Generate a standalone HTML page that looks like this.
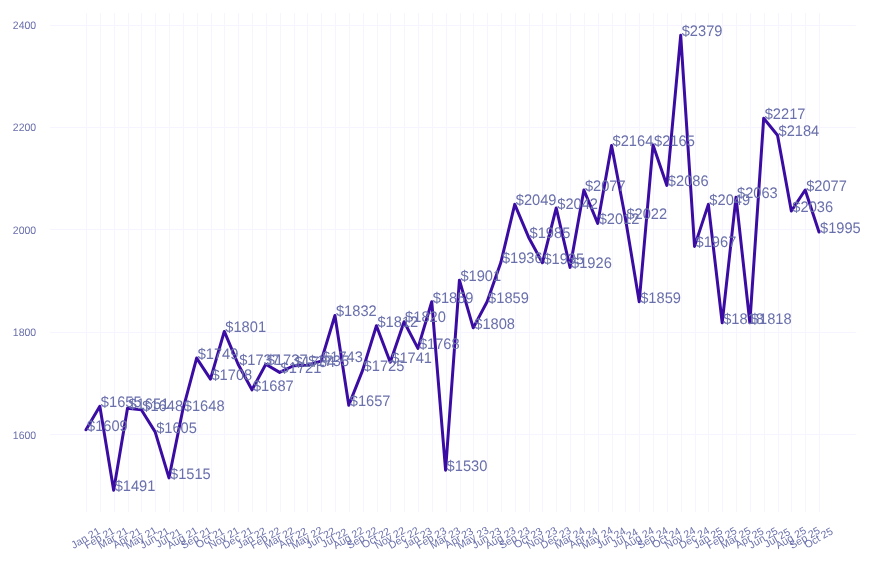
<!DOCTYPE html>
<html lang="en"><head><meta charset="utf-8"><title>Chart</title>
<style>
html,body{margin:0;padding:0;background:#fff;}
body{width:873px;height:565px;overflow:hidden;font-family:"Liberation Sans",sans-serif;}
svg{display:block;text-rendering:geometricPrecision;font-family:"Liberation Sans",sans-serif;}
.grid line{stroke:#f6f4ff;stroke-width:1;shape-rendering:crispEdges;}
.yt text{font-size:10.5px;fill:#6a70ab;text-anchor:end;}
.xt text{font-size:10.5px;fill:#6a70ab;text-anchor:middle;}
.lbl text{font-size:14.67px;fill:#6a70ab;text-anchor:start;}
.ln{fill:none;stroke:#3a0ca3;stroke-width:3;stroke-linejoin:round;stroke-linecap:round;}
</style></head><body>
<svg width="873" height="565" viewBox="0 0 873 565">
<rect width="873" height="565" fill="#ffffff"/>

<g class="grid">
<line x1="86.5" x2="86.5" y1="13" y2="512"/>
<line x1="100.5" x2="100.5" y1="13" y2="512"/>
<line x1="114.5" x2="114.5" y1="13" y2="512"/>
<line x1="128.5" x2="128.5" y1="13" y2="512"/>
<line x1="141.5" x2="141.5" y1="13" y2="512"/>
<line x1="155.5" x2="155.5" y1="13" y2="512"/>
<line x1="169.5" x2="169.5" y1="13" y2="512"/>
<line x1="183.5" x2="183.5" y1="13" y2="512"/>
<line x1="197.5" x2="197.5" y1="13" y2="512"/>
<line x1="211.5" x2="211.5" y1="13" y2="512"/>
<line x1="224.5" x2="224.5" y1="13" y2="512"/>
<line x1="238.5" x2="238.5" y1="13" y2="512"/>
<line x1="252.5" x2="252.5" y1="13" y2="512"/>
<line x1="266.5" x2="266.5" y1="13" y2="512"/>
<line x1="280.5" x2="280.5" y1="13" y2="512"/>
<line x1="294.5" x2="294.5" y1="13" y2="512"/>
<line x1="307.5" x2="307.5" y1="13" y2="512"/>
<line x1="321.5" x2="321.5" y1="13" y2="512"/>
<line x1="335.5" x2="335.5" y1="13" y2="512"/>
<line x1="349.5" x2="349.5" y1="13" y2="512"/>
<line x1="363.5" x2="363.5" y1="13" y2="512"/>
<line x1="377.5" x2="377.5" y1="13" y2="512"/>
<line x1="390.5" x2="390.5" y1="13" y2="512"/>
<line x1="404.5" x2="404.5" y1="13" y2="512"/>
<line x1="418.5" x2="418.5" y1="13" y2="512"/>
<line x1="432.5" x2="432.5" y1="13" y2="512"/>
<line x1="446.5" x2="446.5" y1="13" y2="512"/>
<line x1="460.5" x2="460.5" y1="13" y2="512"/>
<line x1="473.5" x2="473.5" y1="13" y2="512"/>
<line x1="487.5" x2="487.5" y1="13" y2="512"/>
<line x1="501.5" x2="501.5" y1="13" y2="512"/>
<line x1="515.5" x2="515.5" y1="13" y2="512"/>
<line x1="529.5" x2="529.5" y1="13" y2="512"/>
<line x1="542.5" x2="542.5" y1="13" y2="512"/>
<line x1="556.5" x2="556.5" y1="13" y2="512"/>
<line x1="570.5" x2="570.5" y1="13" y2="512"/>
<line x1="584.5" x2="584.5" y1="13" y2="512"/>
<line x1="598.5" x2="598.5" y1="13" y2="512"/>
<line x1="612.5" x2="612.5" y1="13" y2="512"/>
<line x1="625.5" x2="625.5" y1="13" y2="512"/>
<line x1="639.5" x2="639.5" y1="13" y2="512"/>
<line x1="653.5" x2="653.5" y1="13" y2="512"/>
<line x1="667.5" x2="667.5" y1="13" y2="512"/>
<line x1="681.5" x2="681.5" y1="13" y2="512"/>
<line x1="695.5" x2="695.5" y1="13" y2="512"/>
<line x1="708.5" x2="708.5" y1="13" y2="512"/>
<line x1="722.5" x2="722.5" y1="13" y2="512"/>
<line x1="736.5" x2="736.5" y1="13" y2="512"/>
<line x1="750.5" x2="750.5" y1="13" y2="512"/>
<line x1="764.5" x2="764.5" y1="13" y2="512"/>
<line x1="778.5" x2="778.5" y1="13" y2="512"/>
<line x1="791.5" x2="791.5" y1="13" y2="512"/>
<line x1="805.5" x2="805.5" y1="13" y2="512"/>
<line x1="819.5" x2="819.5" y1="13" y2="512"/>
<line x1="50" x2="856" y1="434.5" y2="434.5"/>
<line x1="50" x2="856" y1="332.5" y2="332.5"/>
<line x1="50" x2="856" y1="229.5" y2="229.5"/>
<line x1="50" x2="856" y1="127.5" y2="127.5"/>
<line x1="50" x2="856" y1="25.5" y2="25.5"/>
</g>
<g class="yt">
<text transform="translate(36.2,438.74) scale(1,1.04)">1600</text>
<text transform="translate(36.2,336.29) scale(1,1.04)">1800</text>
<text transform="translate(36.2,233.83) scale(1,1.04)">2000</text>
<text transform="translate(36.2,131.38) scale(1,1.04)">2200</text>
<text transform="translate(36.2,28.93) scale(1,1.04)">2400</text>
</g>
<g class="xt">
<text transform="translate(87.30,541.0) rotate(-30)" x="0" y="0">Jan 21</text>
<text transform="translate(101.13,541.0) rotate(-30)" x="0" y="0">Feb 21</text>
<text transform="translate(114.96,541.0) rotate(-30)" x="0" y="0">Mar 21</text>
<text transform="translate(128.79,541.0) rotate(-30)" x="0" y="0">Apr 21</text>
<text transform="translate(142.62,541.0) rotate(-30)" x="0" y="0">May 21</text>
<text transform="translate(156.45,541.0) rotate(-30)" x="0" y="0">Jun 21</text>
<text transform="translate(170.28,541.0) rotate(-30)" x="0" y="0">Jul 21</text>
<text transform="translate(184.11,541.0) rotate(-30)" x="0" y="0">Aug 21</text>
<text transform="translate(197.94,541.0) rotate(-30)" x="0" y="0">Sep 21</text>
<text transform="translate(211.77,541.0) rotate(-30)" x="0" y="0">Oct 21</text>
<text transform="translate(225.60,541.0) rotate(-30)" x="0" y="0">Nov 21</text>
<text transform="translate(239.43,541.0) rotate(-30)" x="0" y="0">Dec 21</text>
<text transform="translate(253.26,541.0) rotate(-30)" x="0" y="0">Jan 22</text>
<text transform="translate(267.09,541.0) rotate(-30)" x="0" y="0">Feb 22</text>
<text transform="translate(280.92,541.0) rotate(-30)" x="0" y="0">Mar 22</text>
<text transform="translate(294.75,541.0) rotate(-30)" x="0" y="0">Apr 22</text>
<text transform="translate(308.58,541.0) rotate(-30)" x="0" y="0">May 22</text>
<text transform="translate(322.41,541.0) rotate(-30)" x="0" y="0">Jun 22</text>
<text transform="translate(336.24,541.0) rotate(-30)" x="0" y="0">Jul 22</text>
<text transform="translate(350.07,541.0) rotate(-30)" x="0" y="0">Aug 22</text>
<text transform="translate(363.90,541.0) rotate(-30)" x="0" y="0">Sep 22</text>
<text transform="translate(377.73,541.0) rotate(-30)" x="0" y="0">Oct 22</text>
<text transform="translate(391.56,541.0) rotate(-30)" x="0" y="0">Nov 22</text>
<text transform="translate(405.39,541.0) rotate(-30)" x="0" y="0">Dec 22</text>
<text transform="translate(419.22,541.0) rotate(-30)" x="0" y="0">Jan 23</text>
<text transform="translate(433.05,541.0) rotate(-30)" x="0" y="0">Feb 23</text>
<text transform="translate(446.88,541.0) rotate(-30)" x="0" y="0">Mar 23</text>
<text transform="translate(460.72,541.0) rotate(-30)" x="0" y="0">Apr 23</text>
<text transform="translate(474.55,541.0) rotate(-30)" x="0" y="0">May 23</text>
<text transform="translate(488.38,541.0) rotate(-30)" x="0" y="0">Jun 23</text>
<text transform="translate(502.21,541.0) rotate(-30)" x="0" y="0">Aug 23</text>
<text transform="translate(516.04,541.0) rotate(-30)" x="0" y="0">Sep 23</text>
<text transform="translate(529.87,541.0) rotate(-30)" x="0" y="0">Oct 23</text>
<text transform="translate(543.70,541.0) rotate(-30)" x="0" y="0">Nov 23</text>
<text transform="translate(557.53,541.0) rotate(-30)" x="0" y="0">Dec 23</text>
<text transform="translate(571.36,541.0) rotate(-30)" x="0" y="0">Mar 24</text>
<text transform="translate(585.19,541.0) rotate(-30)" x="0" y="0">Apr 24</text>
<text transform="translate(599.02,541.0) rotate(-30)" x="0" y="0">May 24</text>
<text transform="translate(612.85,541.0) rotate(-30)" x="0" y="0">Jun 24</text>
<text transform="translate(626.68,541.0) rotate(-30)" x="0" y="0">Jul 24</text>
<text transform="translate(640.51,541.0) rotate(-30)" x="0" y="0">Aug 24</text>
<text transform="translate(654.34,541.0) rotate(-30)" x="0" y="0">Sep 24</text>
<text transform="translate(668.17,541.0) rotate(-30)" x="0" y="0">Oct 24</text>
<text transform="translate(682.00,541.0) rotate(-30)" x="0" y="0">Nov 24</text>
<text transform="translate(695.83,541.0) rotate(-30)" x="0" y="0">Dec 24</text>
<text transform="translate(709.66,541.0) rotate(-30)" x="0" y="0">Jan 25</text>
<text transform="translate(723.49,541.0) rotate(-30)" x="0" y="0">Feb 25</text>
<text transform="translate(737.32,541.0) rotate(-30)" x="0" y="0">Mar 25</text>
<text transform="translate(751.15,541.0) rotate(-30)" x="0" y="0">Apr 25</text>
<text transform="translate(764.98,541.0) rotate(-30)" x="0" y="0">Jun 25</text>
<text transform="translate(778.81,541.0) rotate(-30)" x="0" y="0">Jul 25</text>
<text transform="translate(792.64,541.0) rotate(-30)" x="0" y="0">Aug 25</text>
<text transform="translate(806.47,541.0) rotate(-30)" x="0" y="0">Sep 25</text>
<text transform="translate(820.30,541.0) rotate(-30)" x="0" y="0">Oct 25</text>
</g>
<polyline class="ln" points="86.00,429.78 99.83,406.21 113.66,490.22 127.49,408.26 141.32,409.80 155.15,431.83 168.98,477.93 182.81,409.80 196.64,358.06 210.47,379.06 224.30,331.42 238.13,364.21 251.96,389.82 265.79,364.21 279.62,372.40 293.45,365.75 307.28,365.23 321.11,361.13 334.94,315.54 348.77,405.19 362.60,370.36 376.43,325.79 390.26,362.16 404.09,321.69 417.92,348.33 431.75,301.71 445.58,470.25 459.42,280.20 473.25,327.84 487.08,301.71 500.91,262.27 514.74,204.38 528.57,237.17 542.40,262.78 556.23,207.97 570.06,267.39 583.89,190.04 597.72,223.34 611.55,145.47 625.38,218.21 639.21,301.71 653.04,144.96 666.87,185.43 680.70,35.34 694.53,246.39 708.36,204.38 722.19,322.72 736.02,197.21 749.85,322.72 763.68,118.32 777.51,135.23 791.34,211.04 805.17,190.04 819.00,232.05"/>
<g class="lbl">
<text transform="translate(87.00,430.58) scale(1,1.04)">$1609</text>
<text transform="translate(100.83,407.01) scale(1,1.04)">$1655</text>
<text transform="translate(114.66,491.02) scale(1,1.04)">$1491</text>
<text transform="translate(128.49,409.06) scale(1,1.04)">$1651</text>
<text transform="translate(142.32,410.60) scale(1,1.04)">$1648</text>
<text transform="translate(156.15,432.63) scale(1,1.04)">$1605</text>
<text transform="translate(169.98,478.73) scale(1,1.04)">$1515</text>
<text transform="translate(183.81,410.60) scale(1,1.04)">$1648</text>
<text transform="translate(197.64,358.86) scale(1,1.04)">$1749</text>
<text transform="translate(211.47,379.86) scale(1,1.04)">$1708</text>
<text transform="translate(225.30,332.22) scale(1,1.04)">$1801</text>
<text transform="translate(239.13,365.01) scale(1,1.04)">$1737</text>
<text transform="translate(252.96,390.62) scale(1,1.04)">$1687</text>
<text transform="translate(266.79,365.01) scale(1,1.04)">$1737</text>
<text transform="translate(280.62,373.20) scale(1,1.04)">$1721</text>
<text transform="translate(294.45,366.55) scale(1,1.04)">$1734</text>
<text transform="translate(308.28,366.03) scale(1,1.04)">$1735</text>
<text transform="translate(322.11,361.93) scale(1,1.04)">$1743</text>
<text transform="translate(335.94,316.34) scale(1,1.04)">$1832</text>
<text transform="translate(349.77,405.99) scale(1,1.04)">$1657</text>
<text transform="translate(363.60,371.16) scale(1,1.04)">$1725</text>
<text transform="translate(377.43,326.59) scale(1,1.04)">$1812</text>
<text transform="translate(391.26,362.96) scale(1,1.04)">$1741</text>
<text transform="translate(405.09,322.49) scale(1,1.04)">$1820</text>
<text transform="translate(418.92,349.13) scale(1,1.04)">$1768</text>
<text transform="translate(432.75,302.51) scale(1,1.04)">$1859</text>
<text transform="translate(446.58,471.05) scale(1,1.04)">$1530</text>
<text transform="translate(460.42,281.00) scale(1,1.04)">$1901</text>
<text transform="translate(474.25,328.64) scale(1,1.04)">$1808</text>
<text transform="translate(488.08,302.51) scale(1,1.04)">$1859</text>
<text transform="translate(501.91,263.07) scale(1,1.04)">$1936</text>
<text transform="translate(515.74,205.18) scale(1,1.04)">$2049</text>
<text transform="translate(529.57,237.97) scale(1,1.04)">$1985</text>
<text transform="translate(543.40,263.58) scale(1,1.04)">$1935</text>
<text transform="translate(557.23,208.77) scale(1,1.04)">$2042</text>
<text transform="translate(571.06,268.19) scale(1,1.04)">$1926</text>
<text transform="translate(584.89,190.84) scale(1,1.04)">$2077</text>
<text transform="translate(598.72,224.14) scale(1,1.04)">$2012</text>
<text transform="translate(612.55,146.27) scale(1,1.04)">$2164</text>
<text transform="translate(626.38,219.01) scale(1,1.04)">$2022</text>
<text transform="translate(640.21,302.51) scale(1,1.04)">$1859</text>
<text transform="translate(654.04,145.76) scale(1,1.04)">$2165</text>
<text transform="translate(667.87,186.23) scale(1,1.04)">$2086</text>
<text transform="translate(681.70,36.14) scale(1,1.04)">$2379</text>
<text transform="translate(695.53,247.19) scale(1,1.04)">$1967</text>
<text transform="translate(709.36,205.18) scale(1,1.04)">$2049</text>
<text transform="translate(723.19,323.52) scale(1,1.04)">$1818</text>
<text transform="translate(737.02,198.01) scale(1,1.04)">$2063</text>
<text transform="translate(750.85,323.52) scale(1,1.04)">$1818</text>
<text transform="translate(764.68,119.12) scale(1,1.04)">$2217</text>
<text transform="translate(778.51,136.03) scale(1,1.04)">$2184</text>
<text transform="translate(792.34,211.84) scale(1,1.04)">$2036</text>
<text transform="translate(806.17,190.84) scale(1,1.04)">$2077</text>
<text transform="translate(820.00,232.85) scale(1,1.04)">$1995</text>
</g>
</svg></body></html>
